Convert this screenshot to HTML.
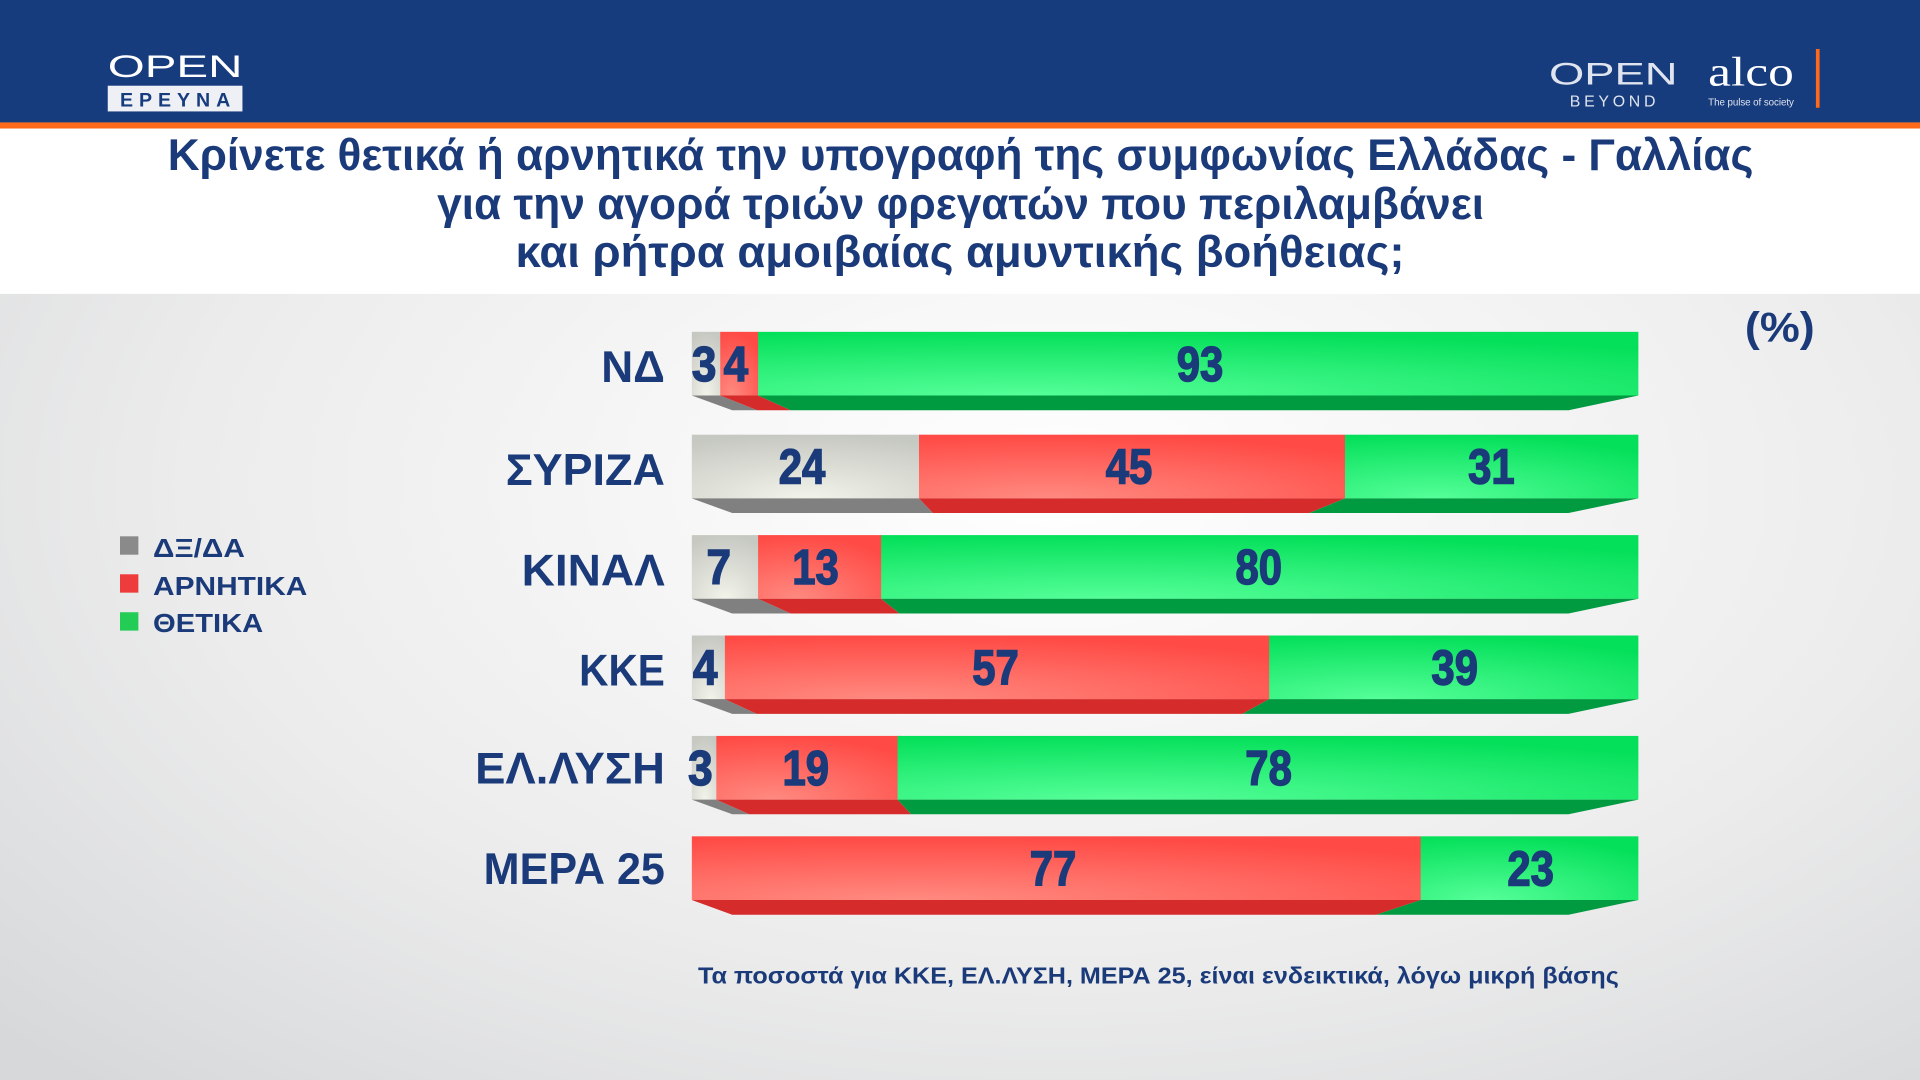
<!DOCTYPE html>
<html><head><meta charset="utf-8"><style>
html,body{margin:0;padding:0;width:1920px;height:1080px;overflow:hidden}
svg{display:block}
text{font-family:"Liberation Sans",sans-serif;font-weight:bold;fill:#1a3a7a}
g text[font-size="40"]{stroke:#1a3a7a;stroke-width:1.2px}
</style></head><body>
<svg width="1920" height="1080" viewBox="0 0 1568 882" preserveAspectRatio="none" xmlns="http://www.w3.org/2000/svg">
<defs>
<radialGradient id="bg" cx="0.55" cy="0.45" r="0.75">
<stop offset="0" stop-color="#ffffff"/><stop offset="0.6" stop-color="#ececec"/><stop offset="1" stop-color="#d6d8da"/></radialGradient>
<radialGradient id="gg" cx="0.3" cy="1" r="1"><stop offset="0" stop-color="#55ff99"/><stop offset="1" stop-color="#05e05a"/></radialGradient>
<radialGradient id="rg" cx="0.3" cy="1" r="1"><stop offset="0" stop-color="#ff8a80"/><stop offset="1" stop-color="#ff4a45"/></radialGradient>
<radialGradient id="yg" cx="0.5" cy="1" r="1"><stop offset="0" stop-color="#f2f4ea"/><stop offset="1" stop-color="#c6c8c2"/></radialGradient>
</defs>
<rect x="0" y="0" width="1568" height="882" fill="url(#bg)"/>
<rect x="0" y="0" width="1568" height="100" fill="#173c7e"/>
<rect x="0" y="100" width="1568" height="5" fill="#ff6a1a"/>
<rect x="0" y="105" width="1568" height="135" fill="#ffffff"/>
<text x="88" y="63" font-size="26" style="font-weight:normal;fill:#fff" textLength="110" lengthAdjust="spacingAndGlyphs">OPEN</text>
<rect x="88" y="70" width="110" height="21" fill="#eef0f6"/>
<text x="143" y="87" font-size="16" text-anchor="middle" style="fill:#173c7e" textLength="90" lengthAdjust="spacing">ΕΡΕΥΝΑ</text>
<text x="1265" y="69" font-size="26" style="font-weight:normal;fill:#dfe4ee" textLength="105" lengthAdjust="spacingAndGlyphs">OPEN</text>
<text x="1282" y="87" font-size="13" style="font-weight:normal;fill:#dfe4ee" textLength="70" lengthAdjust="spacing">BEYOND</text>
<text x="1395" y="70" font-size="34" style="font-family:'Liberation Serif',serif;font-weight:normal;fill:#fff" textLength="70" lengthAdjust="spacingAndGlyphs">alco</text>
<text x="1395" y="86" font-size="8" style="font-weight:normal;fill:#dfe4ee" textLength="70">The pulse of society</text>
<rect x="1483" y="40" width="3" height="48" fill="#ff6a1a"/>
<text x="137" y="139" font-size="36" textLength="1295" lengthAdjust="spacingAndGlyphs">Κρίνετε θετικά ή αρνητικά την υπογραφή της συμφωνίας Ελλάδας - Γαλλίας</text>
<text x="357" y="179" font-size="36" textLength="855" lengthAdjust="spacingAndGlyphs">για την αγορά τριών φρεγατών που περιλαμβάνει</text>
<text x="421" y="218" font-size="36" textLength="726" lengthAdjust="spacingAndGlyphs">και ρήτρα αμοιβαίας αμυντικής βοήθειας;</text>
<text x="1425" y="279" font-size="34" textLength="57" lengthAdjust="spacingAndGlyphs">(%)</text>
<rect x="98" y="438" width="15" height="15" fill="#8a8a8a"/>
<rect x="98" y="469" width="15" height="15" fill="#ee3b3b"/>
<rect x="98" y="500" width="15" height="15" fill="#22cc55"/>
<text x="125" y="455" font-size="21" textLength="75" lengthAdjust="spacingAndGlyphs">ΔΞ/ΔΑ</text>
<text x="125" y="486" font-size="21" textLength="126" lengthAdjust="spacingAndGlyphs">ΑΡΝΗΤΙΚΑ</text>
<text x="125" y="516" font-size="21" textLength="90" lengthAdjust="spacingAndGlyphs">ΘΕΤΙΚΑ</text>

<g transform="translate(0,271)">
<rect x="565" y="0" width="23.7" height="52" fill="url(#yg)"/>
<rect x="588.2" y="0" width="31.4" height="52" fill="url(#rg)"/>
<rect x="619.1" y="0" width="718.9" height="52" fill="url(#gg)"/>
<polygon points="565,52 588.2,52 618.5,64 598,64" fill="#808080"/>
<polygon points="588.2,52 619.1,52 645.8,64 618.5,64" fill="#d52b2b"/>
<polygon points="619.1,52 1338,52 1281,64 645.8,64" fill="#009a40"/>
<text x="543" y="41" font-size="36" text-anchor="end" textLength="52" lengthAdjust="spacingAndGlyphs">ΝΔ</text>
<text x="575" y="40" font-size="40" text-anchor="middle" textLength="20" lengthAdjust="spacingAndGlyphs">3</text>
<text x="601" y="40" font-size="40" text-anchor="middle" textLength="20" lengthAdjust="spacingAndGlyphs">4</text>
<text x="980" y="40" font-size="40" text-anchor="middle" textLength="38" lengthAdjust="spacingAndGlyphs">93</text>
</g>
<g transform="translate(0,355)">
<rect x="565" y="0" width="186" height="52" fill="url(#yg)"/>
<rect x="750.5" y="0" width="348.4" height="52" fill="url(#rg)"/>
<rect x="1098.4" y="0" width="239.6" height="52" fill="url(#gg)"/>
<polygon points="565,52 750.5,52 761.9,64 598,64" fill="#808080"/>
<polygon points="750.5,52 1098.4,52 1069.3,64 761.9,64" fill="#d52b2b"/>
<polygon points="1098.4,52 1338,52 1281,64 1069.3,64" fill="#009a40"/>
<text x="543" y="41" font-size="36" text-anchor="end" textLength="130" lengthAdjust="spacingAndGlyphs">ΣΥΡΙΖΑ</text>
<text x="655" y="40" font-size="40" text-anchor="middle" textLength="38" lengthAdjust="spacingAndGlyphs">24</text>
<text x="922" y="40" font-size="40" text-anchor="middle" textLength="38" lengthAdjust="spacingAndGlyphs">45</text>
<text x="1218" y="40" font-size="40" text-anchor="middle" textLength="38" lengthAdjust="spacingAndGlyphs">31</text>
</g>
<g transform="translate(0,437)">
<rect x="565" y="0" width="54.6" height="52" fill="url(#yg)"/>
<rect x="619.1" y="0" width="101" height="52" fill="url(#rg)"/>
<rect x="719.6" y="0" width="618.4" height="52" fill="url(#gg)"/>
<polygon points="565,52 619.1,52 645.8,64 598,64" fill="#808080"/>
<polygon points="619.1,52 719.6,52 734.6,64 645.8,64" fill="#d52b2b"/>
<polygon points="719.6,52 1338,52 1281,64 734.6,64" fill="#009a40"/>
<text x="543" y="41" font-size="36" text-anchor="end" textLength="117" lengthAdjust="spacingAndGlyphs">ΚΙΝΑΛ</text>
<text x="587" y="40" font-size="40" text-anchor="middle" textLength="20" lengthAdjust="spacingAndGlyphs">7</text>
<text x="666" y="40" font-size="40" text-anchor="middle" textLength="38" lengthAdjust="spacingAndGlyphs">13</text>
<text x="1028" y="40" font-size="40" text-anchor="middle" textLength="38" lengthAdjust="spacingAndGlyphs">80</text>
</g>
<g transform="translate(0,519)">
<rect x="565" y="0" width="31.4" height="52" fill="url(#yg)"/>
<rect x="592" y="0" width="445" height="52" fill="url(#rg)"/>
<rect x="1036.5" y="0" width="301.5" height="52" fill="url(#gg)"/>
<polygon points="565,52 592,52 618,64 598,64" fill="#808080"/>
<polygon points="592,52 1036.5,52 1014.6,64 618,64" fill="#d52b2b"/>
<polygon points="1036.5,52 1338,52 1281,64 1014.6,64" fill="#009a40"/>
<text x="543" y="41" font-size="36" text-anchor="end" textLength="70" lengthAdjust="spacingAndGlyphs">ΚΚΕ</text>
<text x="576" y="40" font-size="40" text-anchor="middle" textLength="20" lengthAdjust="spacingAndGlyphs">4</text>
<text x="813" y="40" font-size="40" text-anchor="middle" textLength="38" lengthAdjust="spacingAndGlyphs">57</text>
<text x="1188" y="40" font-size="40" text-anchor="middle" textLength="38" lengthAdjust="spacingAndGlyphs">39</text>
</g>
<g transform="translate(0,601)">
<rect x="565" y="0" width="21" height="52" fill="url(#yg)"/>
<rect x="585" y="0" width="150.5" height="52" fill="url(#rg)"/>
<rect x="733" y="0" width="605" height="52" fill="url(#gg)"/>
<polygon points="565,52 585,52 612,64 598,64" fill="#808080"/>
<polygon points="585,52 733,52 744,64 612,64" fill="#d52b2b"/>
<polygon points="733,52 1338,52 1281,64 744,64" fill="#009a40"/>
<text x="543" y="39" font-size="36" text-anchor="end" textLength="155" lengthAdjust="spacingAndGlyphs">ΕΛ.ΛΥΣΗ</text>
<text x="572" y="40" font-size="40" text-anchor="middle" textLength="20" lengthAdjust="spacingAndGlyphs">3</text>
<text x="658" y="40" font-size="40" text-anchor="middle" textLength="38" lengthAdjust="spacingAndGlyphs">19</text>
<text x="1036" y="40" font-size="40" text-anchor="middle" textLength="38" lengthAdjust="spacingAndGlyphs">78</text>
</g>
<g transform="translate(0,683)">
<rect x="565" y="0" width="595.7" height="52" fill="url(#rg)"/>
<rect x="1160.2" y="0" width="177.8" height="52" fill="url(#gg)"/>
<polygon points="565,52 1160.2,52 1123.9,64 598,64" fill="#d52b2b"/>
<polygon points="1160.2,52 1338,52 1281,64 1123.9,64" fill="#009a40"/>
<text x="543" y="39" font-size="36" text-anchor="end" textLength="148" lengthAdjust="spacingAndGlyphs">ΜΕΡΑ 25</text>
<text x="860" y="40" font-size="40" text-anchor="middle" textLength="38" lengthAdjust="spacingAndGlyphs">77</text>
<text x="1250" y="40" font-size="40" text-anchor="middle" textLength="38" lengthAdjust="spacingAndGlyphs">23</text>
</g>

<text x="946" y="803" font-size="19" text-anchor="middle" textLength="752" lengthAdjust="spacingAndGlyphs">Τα ποσοστά για ΚΚΕ, ΕΛ.ΛΥΣΗ, ΜΕΡΑ 25, είναι ενδεικτικά, λόγω μικρή βάσης</text>
</svg>
</body></html>
